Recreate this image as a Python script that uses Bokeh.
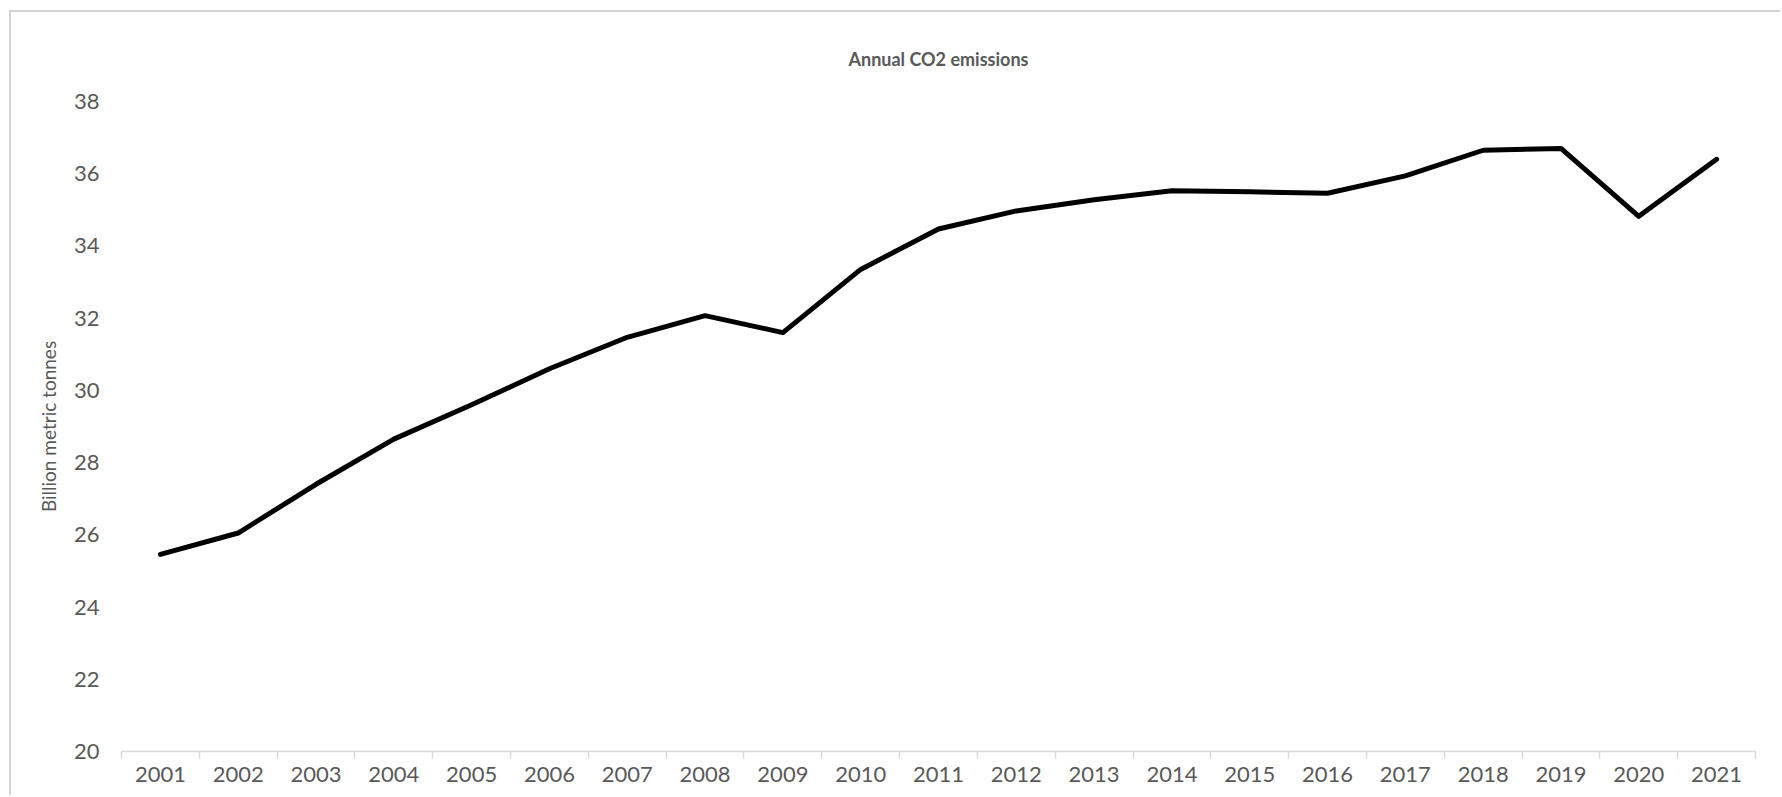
from bokeh.plotting import figure
from bokeh.models import FixedTicker, Range1d
from bokeh.embed import file_html
from bokeh.resources import INLINE

# Annual global CO2 emissions, billion metric tonnes
years = [2001, 2002, 2003, 2004, 2005, 2006, 2007, 2008, 2009, 2010, 2011,
         2012, 2013, 2014, 2015, 2016, 2017, 2018, 2019, 2020, 2021]
year_labels = [str(y) for y in years]
emissions = [25.46, 26.05, 27.40, 28.65, 29.60, 30.60, 31.47, 32.07, 31.60,
             33.35, 34.47, 34.97, 35.28, 35.53, 35.50, 35.46, 35.94, 36.65,
             36.70, 34.82, 36.40]
y_ticks = [20, 22, 24, 26, 28, 30, 32, 34, 36, 38]

TEXT = "#595959"
AXIS = "#d9d9d9"
FONT = "Lato"

p = figure(
    width=1771, height=785,
    output_backend="svg", toolbar_location=None,
    x_range=Range1d(years[0] - 0.5, years[-1] + 0.5),
    y_range=Range1d(y_ticks[0], y_ticks[-1]),
    min_border_left=110, min_border_right=27,
    min_border_top=89, min_border_bottom=46,
)
p.styles = {
    "margin-left": "9px", "margin-top": "10px",
    "border-left": "2px solid #d4d4d4", "border-top": "2px solid #d4d4d4",
}

p.line(years, emissions, line_color="black", line_width=5,
       line_cap="round", line_join="round")

p.xgrid.visible = False
p.ygrid.visible = False
p.outline_line_color = None

p.title.text = "Annual CO2 emissions"
p.title.align = "center"
p.title.text_font = FONT
p.title.text_font_style = "bold"
p.title.text_font_size = "18px"
p.title.text_color = TEXT
p.title.standoff = 63

# category axis: labels at year centres, ticks on the boundaries
xa = p.xaxis[0]
xa.ticker = FixedTicker(ticks=years,
                        minor_ticks=[y - 0.5 for y in years] + [years[-1] + 0.5])
xa.major_label_overrides = {y: lab for y, lab in zip(years, year_labels)}
xa.major_tick_line_color = None
xa.major_tick_in = 0
xa.major_tick_out = 0
xa.minor_tick_in = 0
xa.minor_tick_out = 7
xa.minor_tick_line_color = AXIS
xa.minor_tick_line_width = 1.5
xa.axis_line_color = AXIS
xa.axis_line_width = 1.5
xa.major_label_standoff = 8
xa.major_label_text_font = FONT
xa.major_label_text_font_size = "22px"
xa.major_label_text_color = TEXT

ya = p.yaxis[0]
ya.ticker = FixedTicker(ticks=y_ticks)
ya.axis_line_color = None
ya.major_tick_line_color = None
ya.minor_tick_line_color = None
ya.major_tick_in = 0
ya.major_tick_out = 0
ya.major_label_standoff = 22
ya.major_label_text_font = FONT
ya.major_label_text_font_size = "22px"
ya.major_label_text_color = TEXT
ya.axis_label = "Billion metric tonnes"
ya.axis_label_text_font = FONT
ya.axis_label_text_font_style = "normal"
ya.axis_label_text_font_size = "19px"
ya.axis_label_text_color = TEXT
ya.axis_label_standoff = 11

open("out.html", "w").write(file_html(p, INLINE))
